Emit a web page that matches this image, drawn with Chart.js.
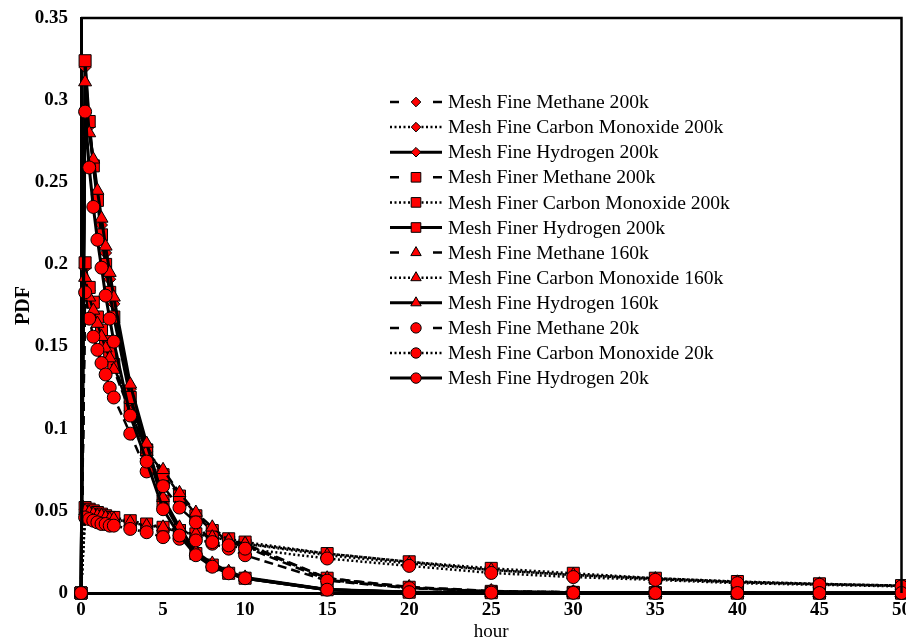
<!DOCTYPE html>
<html>
<head>
<meta charset="utf-8">
<script src="https://cdn.jsdelivr.net/npm/chart.js@4"></script>
<style>
  html, body { margin: 0; padding: 0; background: #fff; overflow: hidden; }
  #wrap { position: relative; width: 911px; height: 643px; }
</style>
</head>
<body>
<div id="wrap"><canvas id="c"></canvas></div>
<script>
// ---- data ----
const xHours = [0, 0.25, 0.5, 0.75, 1, 1.25, 1.5, 1.75, 2, 3, 4, 5, 6, 7, 8, 9, 10, 15, 20, 25, 30, 35, 40, 45, 50];

const yTickLabels = ['0', '0.05', '0.1', '0.15', '0.2', '0.25', '0.3', '0.35'];
const xTickLabels = ['0', '5', '10', '15', '20', '25', '30', '35', '40', '45', '50'];

const seriesNames = [
  'Mesh Fine Methane 200k',
  'Mesh Fine Carbon Monoxide 200k',
  'Mesh Fine Hydrogen 200k',
  'Mesh Finer Methane 200k',
  'Mesh Finer Carbon Monoxide 200k',
  'Mesh Finer Hydrogen 200k',
  'Mesh Fine Methane 160k',
  'Mesh Fine Carbon Monoxide 160k',
  'Mesh Fine Hydrogen 160k',
  'Mesh Fine Methane 20k',
  'Mesh Fine Carbon Monoxide 20k',
  'Mesh Fine Hydrogen 20k'
];

const ch4Fine200  = [0, 0.198, 0.184, 0.176, 0.168, 0.160, 0.152, 0.145, 0.138, 0.111, 0.086, 0.074, 0.060, 0.048, 0.039, 0.031, 0.028, 0.008, 0.003, 0.001, 0.0004, 0.0002, 0.0001, 0, 0];
const coFine200   = [0, 0.051, 0.050, 0.049, 0.048, 0.047, 0.046, 0.046, 0.045, 0.043, 0.041, 0.040, 0.037, 0.036, 0.034, 0.032, 0.030, 0.024, 0.019, 0.014, 0.011, 0.009, 0.0068, 0.0055, 0.0045];
const h2Fine200   = [0, 0.320, 0.284, 0.262, 0.242, 0.224, 0.207, 0.191, 0.176, 0.124, 0.089, 0.057, 0.039, 0.024, 0.017, 0.012, 0.009, 0.002, 0.0005, 0.0002, 0.0001, 0, 0, 0, 0];

const ch4Finer200 = [0, 0.201, 0.186, 0.177, 0.168, 0.160, 0.153, 0.146, 0.139, 0.113, 0.087, 0.072, 0.059, 0.047, 0.038, 0.031, 0.029, 0.009, 0.0035, 0.001, 0.0004, 0.0002, 0.0001, 0, 0];
const coFiner200  = [0, 0.052, 0.051, 0.050, 0.049, 0.048, 0.047, 0.046, 0.046, 0.044, 0.042, 0.040, 0.038, 0.036, 0.035, 0.033, 0.031, 0.024, 0.019, 0.015, 0.012, 0.009, 0.007, 0.0056, 0.0045];
const h2Finer200  = [0, 0.324, 0.287, 0.260, 0.239, 0.218, 0.200, 0.183, 0.168, 0.119, 0.087, 0.056, 0.038, 0.024, 0.017, 0.012, 0.009, 0.002, 0.0005, 0.0002, 0.0001, 0, 0, 0, 0];

const ch4Fine160  = [0, 0.192, 0.180, 0.172, 0.164, 0.156, 0.149, 0.143, 0.136, 0.110, 0.086, 0.075, 0.061, 0.049, 0.040, 0.032, 0.030, 0.009, 0.0037, 0.0012, 0.0005, 0.0002, 0.0001, 0, 0];
const coFine160   = [0, 0.050, 0.049, 0.048, 0.047, 0.047, 0.046, 0.045, 0.045, 0.043, 0.041, 0.040, 0.037, 0.036, 0.034, 0.032, 0.030, 0.023, 0.018, 0.014, 0.011, 0.0085, 0.0065, 0.0053, 0.0043];
const h2Fine160   = [0, 0.311, 0.280, 0.264, 0.245, 0.228, 0.211, 0.195, 0.180, 0.127, 0.091, 0.058, 0.040, 0.025, 0.018, 0.013, 0.0095, 0.0022, 0.0006, 0.0002, 0.0001, 0, 0, 0, 0];

const ch4Fine20   = [0, 0.183, 0.167, 0.156, 0.148, 0.140, 0.133, 0.125, 0.119, 0.097, 0.074, 0.065, 0.052, 0.043, 0.030, 0.027, 0.023, 0.0075, 0.003, 0.001, 0.0004, 0.0002, 0.0001, 0, 0];
const coFine20    = [0, 0.046, 0.045, 0.044, 0.043, 0.042, 0.042, 0.041, 0.041, 0.039, 0.037, 0.034, 0.033, 0.032, 0.031, 0.029, 0.027, 0.021, 0.0165, 0.0122, 0.0097, 0.008, 0.006, 0.005, 0.004];
const h2Fine20    = [0, 0.293, 0.259, 0.235, 0.215, 0.198, 0.181, 0.167, 0.153, 0.108, 0.080, 0.051, 0.035, 0.023, 0.016, 0.012, 0.009, 0.002, 0.0005, 0.0002, 0.0001, 0, 0, 0, 0];

const seriesValues = [
  ch4Fine200, coFine200, h2Fine200,
  ch4Finer200, coFiner200, h2Finer200,
  ch4Fine160, coFine160, h2Fine160,
  ch4Fine20, coFine20, h2Fine20
];

// ---- styles ----
const SERIF = '"Liberation Serif", "Times New Roman", serif';
const lineKinds = ['dash', 'dot', 'solid'];
const markers = [
  { style: 'rectRot', radius: 6 },
  { style: 'rect', radius: 8.5 },
  { style: 'triangle', radius: 7.5 },
  { style: 'circle', radius: 6.5 }
];
const dashFor = { dash: [9, 5], dot: [2, 2.5], solid: [] };
const widthFor = { dash: 2.5, dot: 2.5, solid: 3 };

const datasets = seriesNames.map((name, i) => {
  const kind = lineKinds[i % 3];
  const mk = markers[Math.floor(i / 3)];
  return {
    label: name,
    data: xHours.map((x, j) => ({ x: x, y: seriesValues[i][j] })),
    borderColor: '#000',
    borderWidth: widthFor[kind],
    borderDash: dashFor[kind],
    backgroundColor: '#ff0000',
    pointStyle: mk.style,
    pointRadius: mk.radius,
    pointBackgroundColor: '#ff0000',
    pointBorderColor: '#000',
    pointBorderWidth: 1,
    tension: 0,
    fill: false,
    clip: false,
    order: 12 - i,
    _kind: kind
  };
});

// custom legend drawn inside the plot
const legendPlugin = {
  id: 'insideLegend',
  afterDraw(chart) {
    const ctx = chart.ctx;
    ctx.save();
    const x0 = 390, x1 = 442, xm = 416, tx = 448, y0 = 102, dy = 25.1;
    chart.data.datasets.forEach((ds, i) => {
      const y = y0 + i * dy;
      ctx.strokeStyle = '#000';
      ctx.lineWidth = ds.borderWidth;
      ctx.lineCap = 'butt';
      if (ds._kind === 'dash') {
        ctx.setLineDash([]);
        ctx.beginPath();
        ctx.moveTo(x0, y); ctx.lineTo(x0 + 9, y);
        ctx.moveTo(x1 - 9, y); ctx.lineTo(x1, y);
        ctx.stroke();
      } else {
        ctx.setLineDash(ds._kind === 'dot' ? [2, 2.5] : []);
        ctx.beginPath();
        ctx.moveTo(x0, y); ctx.lineTo(x1, y);
        ctx.stroke();
      }
      ctx.setLineDash([]);
      ctx.fillStyle = '#ff0000';
      ctx.strokeStyle = '#000';
      ctx.lineWidth = 1;
      Chart.helpers.drawPoint(ctx, { pointStyle: ds.pointStyle, radius: ds.pointRadius * 0.8, borderWidth: 1 }, xm, y);
      ctx.fillStyle = '#000';
      ctx.font = '19.6px ' + SERIF;
      ctx.textAlign = 'left';
      ctx.textBaseline = 'middle';
      ctx.fillText(ds.label, tx, y + 1);
    });
    ctx.restore();
  }
};

// frame (top and right sides)
const framePlugin = {
  id: 'frame',
  afterDraw(chart) {
    const a = chart.chartArea, ctx = chart.ctx;
    ctx.save();
    ctx.strokeStyle = '#000';
    ctx.lineWidth = 2.5;
    ctx.beginPath();
    ctx.moveTo(a.left, a.top);
    ctx.lineTo(a.right, a.top);
    ctx.lineTo(a.right, a.bottom);
    ctx.stroke();
    ctx.restore();
  }
};

new Chart(document.getElementById('c'), {
  type: 'line',
  data: { datasets: datasets },
  plugins: [framePlugin, legendPlugin],
  options: {
    responsive: true,
    maintainAspectRatio: false,
    animation: false,
    layout: { padding: { top: 18, right: 0, left: 0, bottom: 0 } },
    plugins: { legend: { display: false }, tooltip: { enabled: false } },
    scales: {
      x: {
        type: 'linear',
        min: 0, max: 50,
        grid: { display: false },
        border: { display: true, color: '#000', width: 3 },
        ticks: {
          stepSize: 5,
          padding: -2,
          color: '#000',
          font: { family: SERIF, size: 19, weight: 'bold' },
          callback: (v) => xTickLabels[Math.round(v / 5)]
        },
        title: {
          display: true, text: 'hour', color: '#000',
          font: { family: SERIF, size: 19 },
          padding: { top: 0, bottom: 0 }
        },
        afterFit: (s) => { s.height = 50; s.paddingLeft = 0; s.paddingRight = 0; }
      },
      y: {
        type: 'linear',
        min: 0, max: 0.35,
        grid: { display: false },
        border: { display: true, color: '#000', width: 3 },
        ticks: {
          stepSize: 0.05,
          padding: 5,
          color: '#000',
          font: { family: SERIF, size: 19, weight: 'bold' },
          callback: (v) => yTickLabels[Math.round(v / 0.05)]
        },
        title: {
          display: true, text: 'PDF', color: '#000',
          font: { family: SERIF, size: 20, weight: 'bold' },
          padding: { top: 12, bottom: 0 }
        },
        afterFit: (s) => { s.width = 81; s.paddingTop = 0; s.paddingBottom = 0; }
      }
    }
  }
});
</script>
</body>
</html>
